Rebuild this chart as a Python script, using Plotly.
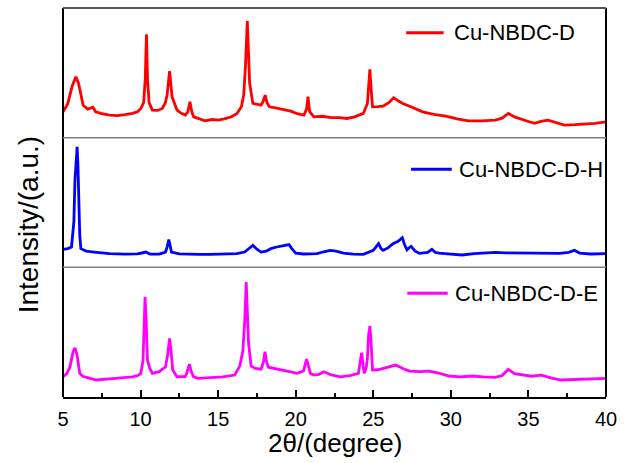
import plotly.graph_objects as go
from plotly.subplots import make_subplots

# XRD patterns (2theta in degrees, intensity in arbitrary units per panel)
theta_d = [5.0, 5.3, 5.6, 5.83, 6.0, 6.3, 6.6, 6.93, 7.1, 7.5, 8.0, 8.5, 9.0, 9.48, 9.8, 10.02,
           10.2, 10.3, 10.38, 10.45, 10.55, 10.76, 11.1, 11.4, 11.6, 11.71, 11.87, 11.95, 12.03,
           12.35, 12.6, 12.89, 13.05, 13.18, 13.3, 13.42, 13.8, 14.16, 14.6, 15.0, 15.4, 15.86,
           16.2, 16.5, 16.65, 16.76, 16.88, 16.96, 17.03, 17.24, 17.5, 17.77, 17.9, 18.03, 18.15,
           18.3, 18.7, 19.2, 19.68, 20.1, 20.53, 20.7, 20.79, 20.9, 21.17, 21.7, 22.3, 22.8, 23.3,
           23.8, 24.36, 24.62, 24.72, 24.78, 24.86, 24.95, 25.3, 25.63, 26.0, 26.31, 26.6, 26.9,
           27.5, 28.18, 28.9, 29.67, 30.4, 31.15, 32.0, 32.86, 33.3, 33.71, 34.1, 34.56, 35.0,
           35.41, 35.8, 36.26, 36.8, 37.32, 38.0, 38.6, 39.3, 40.0]
int_d = [19.9, 26, 40, 46.9, 42, 25, 22, 23.5, 20, 18.5, 17.4, 17, 17.8, 18.7, 20, 22.5,
         27, 45, 79.7, 45, 27, 21.2, 21, 22.5, 27, 32.8, 51.4, 40, 31.5,
         21.2, 19, 17.4, 20, 27.6, 20, 16.1, 14.5, 13.0, 14, 13.5, 14.5, 16.1,
         18.5, 23.8, 33, 55, 90, 60, 41.9, 26.4, 25.5, 25.1, 28, 32.8, 27,
         23.8, 23, 22, 20.5, 18.5, 17.4, 22, 31.7, 20, 16.1, 16.5, 15.5, 15.5, 14.8,
         16, 18.7, 26.4, 40, 52.6, 38, 23.8, 24, 24.3, 27, 30.7, 28.5, 26.4,
         23.5, 19.9, 18, 16.6, 14.5, 13.0, 13, 13.5, 15, 18.7, 16, 14.0, 12.5,
         11.0, 12.5, 13.5, 11.5, 9.7, 10, 10.4, 11, 12.2]

theta_h = [5.0, 5.3, 5.55, 5.7, 5.77, 5.85, 5.91, 5.96, 6.0, 6.08, 6.15, 6.5, 7.0, 7.36, 8.0,
           9.0, 9.8, 10.34, 10.6, 11.2, 11.61, 11.72, 11.82, 11.9, 11.99, 12.5, 13.0, 13.73,
           14.5, 15.5, 16.2, 16.71, 17.0, 17.24, 17.5, 17.77, 18.1, 18.4, 18.7, 19.04, 19.3,
           19.57, 19.75, 20.0, 20.5, 21.0, 21.38, 21.8, 22.23, 22.6, 23.08, 23.7, 24.36, 25.0,
           25.2, 25.34, 25.5, 25.63, 25.95, 26.27, 26.6, 26.87, 27.0, 27.17, 27.3, 27.44, 27.7,
           27.97, 28.5, 28.78, 29.0, 29.24, 30.0, 30.73, 31.5, 32.2, 32.86, 33.5, 34.3, 34.98,
           36.0, 37.0, 37.6, 37.96, 38.3, 39.0, 40.0]
int_h = [13.9, 14.5, 15.7, 35, 67.2, 88, 92.9, 80, 54.3, 25, 14.4, 12.5, 11.8, 11.3, 10.5,
         10.2, 10.3, 11.8, 10.2, 10.2, 11.8, 16, 21.4, 17, 11.8, 10.3, 10.0, 10.0,
         10.0, 10.2, 10.5, 11.8, 15, 17.0, 14, 11.8, 12.5, 14.4, 15.5, 16.2, 16.5,
         17.5, 14.5, 11.0, 10.3, 10.2, 10.5, 12, 13.1, 12.5, 11, 10.2, 10.0, 13.1,
         16, 18.3, 14.5, 13.1, 15, 18.3, 20, 22.9, 18, 13.5, 15, 16.2, 12.5,
         10.8, 11.5, 13.9, 11.5, 11, 10.2, 9.5, 10.5, 11.2, 11.6, 11.2, 11, 10.8,
         10.5, 10.8, 11.5, 13.1, 11, 10.3, 10.5]

theta_e = [5.0, 5.25, 5.45, 5.65, 5.77, 5.9, 6.08, 6.3, 6.51, 7.15, 8.0, 8.8, 9.48, 9.8, 10.02,
           10.16, 10.24, 10.29, 10.36, 10.44, 10.6, 10.76, 11.2, 11.61, 11.75, 11.87, 11.97,
           12.07, 12.35, 12.88, 13.0, 13.14, 13.28, 13.42, 13.73, 14.5, 15.3, 16.07, 16.4, 16.6,
           16.72, 16.81, 16.9, 16.96, 17.13, 17.4, 17.77, 17.92, 18.02, 18.12, 18.24, 18.6,
           19.05, 19.6, 20.1, 20.5, 20.62, 20.7, 20.82, 20.95, 21.17, 21.5, 21.81, 22.3, 22.87,
           23.5, 24.04, 24.15, 24.25, 24.35, 24.42, 24.55, 24.62, 24.7, 24.78, 24.86, 24.95,
           25.3, 25.63, 26.0, 26.44, 26.9, 27.33, 28.0, 28.61, 29.2, 29.88, 30.6, 31.37, 32.1,
           32.86, 33.3, 33.71, 34.1, 34.56, 35.2, 35.84, 36.5, 37.12, 38.0, 39.0, 40.0]
int_e = [15.6, 18, 23.3, 35, 37.9, 33, 18.2, 15.8, 15.1, 13.1, 14, 14.8, 15.6, 16.5, 18.2,
         28.5, 60, 77.2, 60, 28.5, 22, 18.2, 19.5, 23.3, 33, 45.1, 35,
         20.8, 15.6, 15.8, 19, 25.4, 19, 15.6, 14.4, 14.8, 15.6, 16.9, 24, 36.2,
         60, 88.7, 60, 41.3, 23.8, 22, 21.5, 27, 34.9, 27, 23, 22,
         21.3, 19.5, 18.2, 20, 25, 29.2, 24, 18.2, 16.9, 17.5, 19.5, 17, 15.6,
         16.5, 18.2, 26, 34.1, 24, 18.2, 23, 30, 48, 54.6, 42, 20.8,
         21, 22.1, 23, 24.6, 22, 20.0, 19.5, 20.0, 18.5, 16.2, 15.5, 16.2, 15.5,
         15.1, 16.5, 21.3, 18, 17, 16, 16.9, 14.5, 13.1, 13.5, 13.8, 14.4]

names = ["Cu-NBDC-D", "Cu-NBDC-D-H", "Cu-NBDC-D-E"]
colors = ["#FF0000", "#0000FF", "#FF00FF"]
series = [(theta_d, int_d), (theta_h, int_h), (theta_e, int_e)]

FONT = "Liberation Sans, Arial, sans-serif"

fig = make_subplots(rows=3, cols=1, shared_xaxes=True, vertical_spacing=0)

for i, ((x, y), name, col) in enumerate(zip(series, names, colors)):
    fig.add_trace(go.Scatter(x=x, y=y, mode="lines", name=name,
                             line=dict(color=col, width=2.8), showlegend=False),
                  row=i + 1, col=1)
    fig.update_yaxes(range=[0, 100], showticklabels=False, showgrid=False,
                     zeroline=False, ticks="", row=i + 1, col=1)

for r in (1, 2):
    fig.update_xaxes(range=[5, 40], showgrid=False, zeroline=False, ticks="",
                     showticklabels=False, row=r, col=1)

fig.update_xaxes(range=[5, 40], showgrid=False, zeroline=False,
                 showline=True, linecolor="black", linewidth=2,
                 ticks="inside", ticklen=7, tickwidth=1.5, tickcolor="black",
                 dtick=5, tick0=5, ticklabelstandoff=3,
                 minor=dict(ticks="inside", ticklen=4, tickwidth=1.5,
                            tickcolor="black", dtick=2.5),
                 tickfont=dict(family=FONT, size=20, color="black"),
                 row=3, col=1)

# frame: dark sides, grey top border and panel separators
fig.add_shape(type="line", xref="paper", yref="paper", x0=0, x1=0, y0=0, y1=1,
              line=dict(color="black", width=2))
fig.add_shape(type="line", xref="paper", yref="paper", x0=1, x1=1, y0=0, y1=1,
              line=dict(color="black", width=2))
fig.add_shape(type="line", xref="paper", yref="paper", x0=0, x1=1, y0=1, y1=1,
              line=dict(color="#555555", width=2))
for yy in (1 / 3, 2 / 3):
    fig.add_shape(type="line", xref="paper", yref="paper", x0=0, x1=1, y0=yy, y1=yy,
                  line=dict(color="#808080", width=1.5))

# per-panel legend entries
legend_pos = [(0.632, 0.701, 0.716, 0.9365),
              (0.641, 0.716, 0.725, 0.5853),
              (0.634, 0.7086, 0.7177, 0.2666)]
for (lx0, lx1, tx, ly), name, col in zip(legend_pos, names, colors):
    fig.add_shape(type="line", xref="paper", yref="paper", x0=lx0, x1=lx1, y0=ly, y1=ly,
                  line=dict(color=col, width=3))
    fig.add_annotation(text=name, xref="paper", yref="paper", x=tx, y=ly,
                       xanchor="left", yanchor="middle", showarrow=False,
                       font=dict(family=FONT, size=22, color="black"))

fig.add_annotation(text="Intensity/(a.u.)", xref="paper", yref="paper",
                   x=-0.064, y=0.442, textangle=-90, showarrow=False,
                   xanchor="center", yanchor="middle",
                   font=dict(family=FONT, size=28, color="black"))
fig.add_annotation(text="2θ/(degree)", xref="paper", yref="paper",
                   x=0.5, y=-0.1195, showarrow=False,
                   xanchor="center", yanchor="middle",
                   font=dict(family=FONT, size=26, color="black"))

fig.update_layout(width=625, height=463, margin=dict(l=63, r=13, t=8, b=66),
                  paper_bgcolor="white", plot_bgcolor="white", showlegend=False)

fig.write_html("out.html")
